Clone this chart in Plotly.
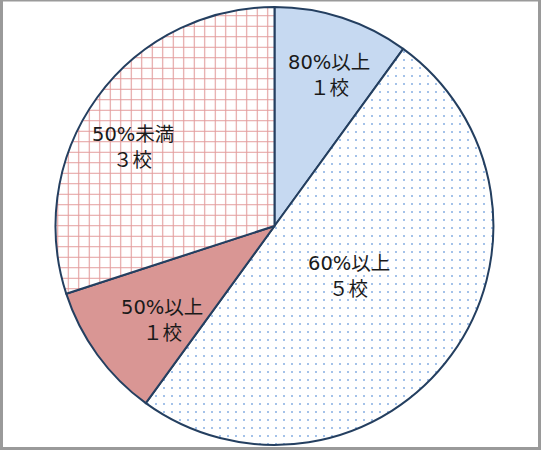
import math
import plotly.graph_objects as go

labels = ["80%以上", "60%以上", "50%以上", "50%未満"]
counts = [1, 5, 1, 3]
count_text = ["１校", "５校", "１校", "３校"]

fill_colors = ["#c6d9f1", "#ffffff", "#d99694", "#ffffff"]
pattern_shapes = ["", ".", "", "+"]
pattern_fg = ["#c6d9f1", "#86aee2", "#d99694", "#e29a9a"]
pattern_size = [8, 8, 8, 10.5]
pattern_solidity = [0.2, 0.05, 0.2, 0.19]
# radial position of each label as a fraction of the pie radius
label_radius = [0.73, 0.41, 0.67, 0.74]
label_angle_shift = [2, -2, -4, -7]

W, H = 541, 450
ML, MR, MT, MB = 54, 46, 7, 5
PW, PH = W - ML - MR, H - MT - MB
R = min(PW, PH) / 2

FONT = "DejaVu Sans, Noto Sans CJK JP, sans-serif"

fig = go.Figure(go.Pie(
    labels=labels,
    values=counts,
    textinfo="none",
    sort=False,
    direction="clockwise",
    rotation=0,
    hoverinfo="label+value",
    marker=dict(
        colors=fill_colors,
        line=dict(color="#243f60", width=2),
        pattern=dict(
            shape=pattern_shapes,
            fgcolor=pattern_fg,
            bgcolor=fill_colors,
            size=pattern_size,
            solidity=pattern_solidity,
            fillmode="replace",
        ),
    ),
    showlegend=False,
))

# labels placed along each slice's bisector (angles derived from the data)
total = sum(counts)
annotations = []
cum = 0
for i, v in enumerate(counts):
    mid = (cum + v / 2) / total * 360 + label_angle_shift[i]
    cum += v
    th = math.radians(mid)
    rr = R * label_radius[i]
    ax = 0.5 + rr * math.sin(th) / PW
    ay = 0.5 + rr * math.cos(th) / PH
    for txt, ys in ((labels[i], 13), (count_text[i], -13)):
        annotations.append(dict(
            x=ax, y=ay, xref="paper", yref="paper", text=txt, showarrow=False,
            yshift=ys, xanchor="center", yanchor="middle",
            font=dict(family=FONT, size=19.5, color="#1a1a1a"),
        ))


def px(x):
    return (x - ML) / PW


def py(y):
    return 1 - (y - MT) / PH


frame = "#9a9a9a"
shapes = [
    dict(type="rect", xref="paper", yref="paper", x0=px(0), x1=px(3), y0=py(450), y1=py(0),
         fillcolor=frame, line=dict(width=0), layer="above"),
    dict(type="rect", xref="paper", yref="paper", x0=px(0), x1=px(541), y0=py(1.5), y1=py(0),
         fillcolor=frame, line=dict(width=0), layer="above"),
    dict(type="rect", xref="paper", yref="paper", x0=px(538), x1=px(541), y0=py(450), y1=py(0),
         fillcolor=frame, line=dict(width=0), layer="above"),
    dict(type="rect", xref="paper", yref="paper", x0=px(0), x1=px(541), y0=py(450), y1=py(447),
         fillcolor=frame, line=dict(width=0), layer="above"),
]

fig.update_layout(
    width=W, height=H,
    margin=dict(l=ML, r=MR, t=MT, b=MB),
    paper_bgcolor="white",
    plot_bgcolor="white",
    shapes=shapes,
    annotations=annotations,
)

fig.write_html(
    "out.html",
    config={"displayModeBar": False},
    post_script="document.body.style.margin='0';document.body.style.padding='0';",
)
